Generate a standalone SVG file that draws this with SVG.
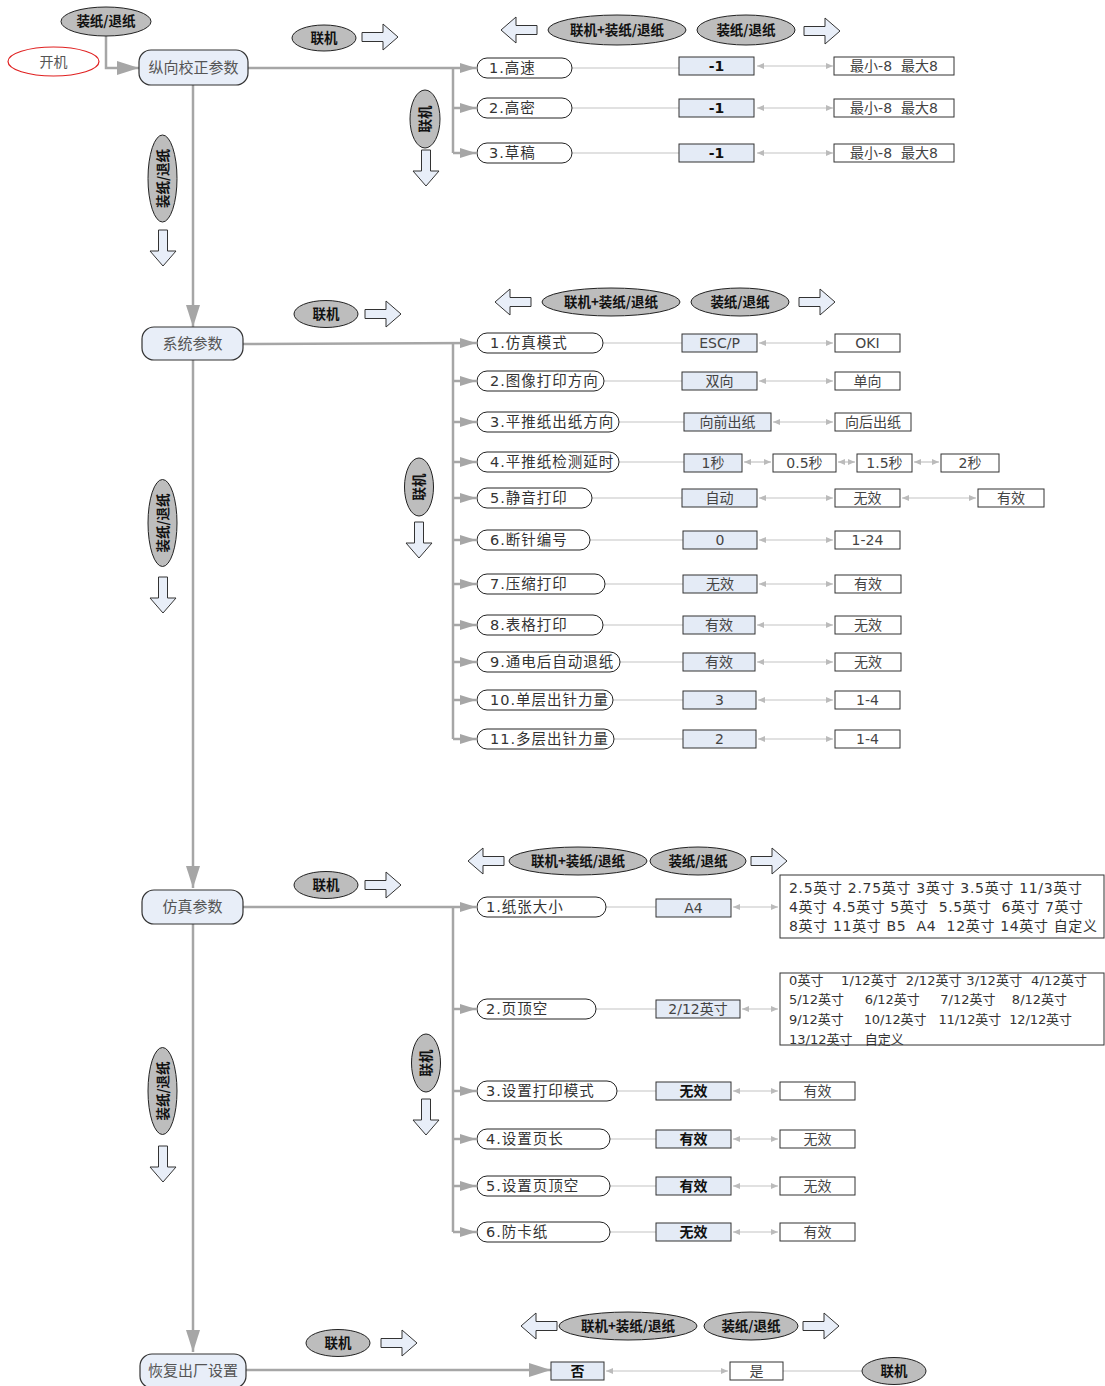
<svg xmlns="http://www.w3.org/2000/svg" xmlns:xlink="http://www.w3.org/1999/xlink" width="1105" height="1386" viewBox="0 0 1105 1386">
<style>
.conn{stroke:#a6a6a6;stroke-width:2.5;fill:none}
.lnk{stroke:#c4c4c4;stroke-width:1.2;fill:none}
.dbl{stroke:#c4c4c4;stroke-width:1.2;fill:none;marker-start:url(#mSm);marker-end:url(#mSm)}
.node{fill:#e8eef8;stroke:#333;stroke-width:1.2}
.pill{fill:#fff;stroke:#222;stroke-width:1}
.val{fill:#e4ebf6;stroke:#333;stroke-width:1}
.opt{fill:#fff;stroke:#333;stroke-width:1}
.btn{fill:#bdbdbd;stroke:#222;stroke-width:1}
.blk{fill:#e8eef8;stroke:#333;stroke-width:1}
text{font-family:"DejaVu Sans","Noto Sans CJK SC",sans-serif;white-space:pre}
.nt{font-size:15px;fill:#555;text-anchor:middle}
.pt{font-size:14.5px;fill:#333;letter-spacing:1px}
.vt{font-size:14px;fill:#444;text-anchor:middle}
.vb{font-size:14px;fill:#111;text-anchor:middle;font-weight:bold}
.bt{font-family:"Noto Sans CJK SC",sans-serif;font-size:13.5px;font-weight:bold;fill:#111;text-anchor:middle}
.lt{font-size:14px;fill:#333}
.ls{font-size:13px;fill:#333}
</style>
<defs>
<marker id="mBig" viewBox="0 0 22 14" refX="22" refY="7" markerWidth="22" markerHeight="14" markerUnits="userSpaceOnUse" orient="auto"><path d="M0,0 L22,7 L0,14 Z" fill="#a6a6a6"/></marker>
<marker id="mMid" viewBox="0 0 16 10" refX="16" refY="5" markerWidth="16" markerHeight="10" markerUnits="userSpaceOnUse" orient="auto"><path d="M0,0 L16,5 L0,10 Z" fill="#a6a6a6"/></marker>
<marker id="mSm" viewBox="0 0 7 6" refX="7" refY="3" markerWidth="7" markerHeight="6" markerUnits="userSpaceOnUse" orient="auto-start-reverse"><path d="M0,0 L7,3 L0,6 Z" fill="#bbb"/></marker>
<path id="ra" d="M0,-4.5 H21 V-13 L36,0 L21,13 V4.5 H0 Z"/>
</defs>
<rect width="1105" height="1386" fill="#fff"/>

<!-- connectors -->
<g id="connectors">
<path class="conn" d="M106,36 V68 H139" marker-end="url(#mBig)"/>
<path class="conn" d="M193,85 V327" marker-end="url(#mBig)"/>
<path class="conn" d="M193,360 V888" marker-end="url(#mBig)"/>
<path class="conn" d="M193,924 V1352" marker-end="url(#mBig)"/>
<!-- section 1 -->
<path class="conn" d="M248,68 H476" marker-end="url(#mMid)"/>
<path class="conn" d="M453,68 V153"/>
<path class="conn" d="M453,108 H476" marker-end="url(#mMid)"/>
<path class="conn" d="M453,153 H476" marker-end="url(#mMid)"/>
<path class="lnk" d="M572,68 H679 M572,108 H679 M572,153 H679"/>
<path class="dbl" d="M757,66 H833"/>
<path class="dbl" d="M757,108 H833"/>
<path class="dbl" d="M757,153 H833"/>
<!-- section 2 -->
<path class="conn" d="M243,344 L476,343" marker-end="url(#mMid)"/>
<path class="conn" d="M453,343 V739"/>
<path class="conn" d="M453,381 H476" marker-end="url(#mMid)"/>
<path class="conn" d="M453,422 H476" marker-end="url(#mMid)"/>
<path class="conn" d="M453,462 H476" marker-end="url(#mMid)"/>
<path class="conn" d="M453,498 H476" marker-end="url(#mMid)"/>
<path class="conn" d="M453,540 H476" marker-end="url(#mMid)"/>
<path class="conn" d="M453,584 H476" marker-end="url(#mMid)"/>
<path class="conn" d="M453,625 H476" marker-end="url(#mMid)"/>
<path class="conn" d="M453,662 H476" marker-end="url(#mMid)"/>
<path class="conn" d="M453,700 H476" marker-end="url(#mMid)"/>
<path class="conn" d="M453,739 H476" marker-end="url(#mMid)"/>
<path class="lnk" d="M603,343 H682 M604,381 H682 M619,422 H684 M619,462 H684 M592,498 H682 M590,540 H683 M605,584 H683 M603,625 H683 M620,662 H683 M613,700 H683 M614,739 H683"/>
<path class="dbl" d="M759,343 H833"/>
<path class="dbl" d="M759,381 H833"/>
<path class="dbl" d="M773,422 H833"/>
<path class="dbl" d="M744,462 H771"/>
<path class="dbl" d="M838,462 H855"/>
<path class="dbl" d="M914,462 H939"/>
<path class="dbl" d="M759,498 H833"/>
<path class="dbl" d="M902,498 H976"/>
<path class="dbl" d="M759,540 H833"/>
<path class="dbl" d="M759,584 H833"/>
<path class="dbl" d="M757,625 H833"/>
<path class="dbl" d="M757,662 H833"/>
<path class="dbl" d="M758,700 H833"/>
<path class="dbl" d="M758,739 H833"/>
<!-- section 3 -->
<path class="conn" d="M243,907 H476" marker-end="url(#mMid)"/>
<path class="conn" d="M453,907 V1232"/>
<path class="conn" d="M453,1009 H476" marker-end="url(#mMid)"/>
<path class="conn" d="M453,1091 H476" marker-end="url(#mMid)"/>
<path class="conn" d="M453,1139 H476" marker-end="url(#mMid)"/>
<path class="conn" d="M453,1186 H476" marker-end="url(#mMid)"/>
<path class="conn" d="M453,1232 H476" marker-end="url(#mMid)"/>
<path class="lnk" d="M606,907 H656 M596,1009 H656 M617,1091 H656 M610,1139 H656 M610,1186 H656 M610,1232 H656"/>
<path class="dbl" d="M733,907 H778"/>
<path class="dbl" d="M742,1009 H778"/>
<path class="dbl" d="M733,1091 H778"/>
<path class="dbl" d="M733,1139 H778"/>
<path class="dbl" d="M733,1186 H778"/>
<path class="dbl" d="M733,1232 H778"/>
<!-- section 4 -->
<path class="conn" d="M246,1370 H551" marker-end="url(#mBig)"/>
<path class="dbl" d="M606,1371 H728"/>
<path class="lnk" d="M783,1371 H862"/>
</g>

<!-- hint buttons and block arrows -->
<g id="hints">
<g id="h-start"><ellipse class="btn" cx="106" cy="21.5" rx="45" ry="14.5"/><text class="bt" x="106" y="26">装纸/退纸</text></g>
<g id="h1-online"><ellipse class="btn" cx="324" cy="38" rx="32" ry="13"/><text class="bt" x="324" y="43">联机</text><use href="#ra" class="blk" transform="translate(362,37)"/></g>
<g id="h1-top">
<use href="#ra" class="blk" transform="translate(537,30) scale(-1,1)"/>
<ellipse class="btn" cx="617" cy="30" rx="69" ry="15"/><text class="bt" x="617" y="35">联机+装纸/退纸</text>
<ellipse class="btn" cx="746" cy="30" rx="49" ry="15"/><text class="bt" x="746" y="35">装纸/退纸</text>
<use href="#ra" class="blk" transform="translate(804,31)"/>
</g>
<g id="h1-down"><ellipse class="btn" cx="425" cy="119" rx="15" ry="29"/><text class="bt" transform="translate(425,119) rotate(-90)" x="0" y="5">联机</text><use href="#ra" class="blk" transform="translate(426,150) rotate(90)"/></g>
<g id="h1-left"><ellipse class="btn" cx="162.5" cy="178.5" rx="14.5" ry="43.5"/><text class="bt" transform="translate(162.5,178.5) rotate(-90)" x="0" y="5">装纸/退纸</text><use href="#ra" class="blk" transform="translate(163,230) rotate(90)"/></g>

<g id="h2-online"><ellipse class="btn" cx="326" cy="314" rx="32" ry="13.5"/><text class="bt" x="326" y="319">联机</text><use href="#ra" class="blk" transform="translate(365,314)"/></g>
<g id="h2-top">
<use href="#ra" class="blk" transform="translate(531,302) scale(-1,1)"/>
<ellipse class="btn" cx="611" cy="302" rx="69" ry="14"/><text class="bt" x="611" y="307">联机+装纸/退纸</text>
<ellipse class="btn" cx="740" cy="302" rx="49" ry="14"/><text class="bt" x="740" y="307">装纸/退纸</text>
<use href="#ra" class="blk" transform="translate(799,302)"/>
</g>
<g id="h2-down"><ellipse class="btn" cx="419" cy="487" rx="14.5" ry="29"/><text class="bt" transform="translate(419,487) rotate(-90)" x="0" y="5">联机</text><use href="#ra" class="blk" transform="translate(419,522) rotate(90)"/></g>
<g id="h2-left"><ellipse class="btn" cx="162.5" cy="523" rx="14.5" ry="43.5"/><text class="bt" transform="translate(162.5,523) rotate(-90)" x="0" y="5">装纸/退纸</text><use href="#ra" class="blk" transform="translate(163,577) rotate(90)"/></g>

<g id="h3-online"><ellipse class="btn" cx="326" cy="885" rx="32" ry="13.5"/><text class="bt" x="326" y="890">联机</text><use href="#ra" class="blk" transform="translate(365,885)"/></g>
<g id="h3-top">
<use href="#ra" class="blk" transform="translate(504,861) scale(-1,1)"/>
<ellipse class="btn" cx="578" cy="861" rx="69" ry="14"/><text class="bt" x="578" y="866">联机+装纸/退纸</text>
<ellipse class="btn" cx="698" cy="861" rx="48" ry="14"/><text class="bt" x="698" y="866">装纸/退纸</text>
<use href="#ra" class="blk" transform="translate(751,861)"/>
</g>
<g id="h3-down"><ellipse class="btn" cx="426" cy="1063" rx="14.5" ry="29"/><text class="bt" transform="translate(426,1063) rotate(-90)" x="0" y="5">联机</text><use href="#ra" class="blk" transform="translate(426,1099) rotate(90)"/></g>
<g id="h3-left"><ellipse class="btn" cx="162.5" cy="1091" rx="14.5" ry="43.5"/><text class="bt" transform="translate(162.5,1091) rotate(-90)" x="0" y="5">装纸/退纸</text><use href="#ra" class="blk" transform="translate(163,1146) rotate(90)"/></g>

<g id="h4-online"><ellipse class="btn" cx="338" cy="1343" rx="32" ry="13.5"/><text class="bt" x="338" y="1348">联机</text><use href="#ra" class="blk" transform="translate(381,1343)"/></g>
<g id="h4-top">
<use href="#ra" class="blk" transform="translate(557,1326) scale(-1,1)"/>
<ellipse class="btn" cx="628" cy="1326" rx="69" ry="14"/><text class="bt" x="628" y="1331">联机+装纸/退纸</text>
<ellipse class="btn" cx="751" cy="1326" rx="47" ry="14"/><text class="bt" x="751" y="1331">装纸/退纸</text>
<use href="#ra" class="blk" transform="translate(803,1326)"/>
</g>
</g>

<!-- main nodes -->
<g id="n-power"><ellipse cx="53.5" cy="61.5" rx="45.5" ry="14.5" fill="#fff" stroke="#e02020" stroke-width="1.2"/><text class="nt" x="53.5" y="67" style="font-size:14px">开机</text></g>
<g id="n-vertical"><rect class="node" x="139" y="50" width="109" height="35" rx="12"/><text class="nt" x="193.5" y="73">纵向校正参数</text></g>
<g id="n-system"><rect class="node" x="142" y="327" width="101" height="33" rx="12"/><text class="nt" x="192.5" y="349">系统参数</text></g>
<g id="n-emul"><rect class="node" x="142" y="890" width="101" height="34" rx="12"/><text class="nt" x="192.5" y="912">仿真参数</text></g>
<g id="n-reset"><rect class="node" x="140" y="1354" width="106" height="34" rx="12"/><text class="nt" x="193" y="1376">恢复出厂设置</text></g>

<!-- section 1 items -->
<g id="s1-r1"><rect class="pill" x="477" y="58" width="95" height="20" rx="10"/><text class="pt" x="489" y="73">1.高速</text>
<rect class="val" x="679" y="57" width="75" height="18"/><text class="vb" x="716.5" y="71">-1</text>
<rect class="opt" x="834" y="57" width="120" height="18"/><text class="vt" x="894" y="71">最小-8  最大8</text></g>
<g id="s1-r2"><rect class="pill" x="477" y="98" width="95" height="20" rx="10"/><text class="pt" x="489" y="113">2.高密</text>
<rect class="val" x="679" y="99" width="75" height="18"/><text class="vb" x="716.5" y="113">-1</text>
<rect class="opt" x="834" y="99" width="120" height="18"/><text class="vt" x="894" y="113">最小-8  最大8</text></g>
<g id="s1-r3"><rect class="pill" x="477" y="143" width="95" height="20" rx="10"/><text class="pt" x="489" y="158">3.草稿</text>
<rect class="val" x="679" y="144" width="75" height="18"/><text class="vb" x="716.5" y="158">-1</text>
<rect class="opt" x="834" y="144" width="120" height="18"/><text class="vt" x="894" y="158">最小-8  最大8</text></g>

<!-- section 2 items -->
<g id="s2-r1"><rect class="pill" x="477" y="333" width="126" height="20" rx="10"/><text class="pt" x="490" y="348">1.仿真模式</text>
<rect class="val" x="682" y="334" width="75" height="18"/><text class="vt" x="719.5" y="348">ESC/P</text>
<rect class="opt" x="835" y="334" width="65" height="18"/><text class="vt" x="867.5" y="348">OKI</text></g>
<g id="s2-r2"><rect class="pill" x="477" y="371" width="127" height="20" rx="10"/><text class="pt" x="490" y="386">2.图像打印方向</text>
<rect class="val" x="682" y="372" width="75" height="18"/><text class="vt" x="719.5" y="386">双向</text>
<rect class="opt" x="835" y="372" width="65" height="18"/><text class="vt" x="867.5" y="386">单向</text></g>
<g id="s2-r3"><rect class="pill" x="477" y="412" width="142" height="20" rx="10"/><text class="pt" x="490" y="427">3.平推纸出纸方向</text>
<rect class="val" x="684" y="413" width="87" height="18"/><text class="vt" x="727.5" y="427">向前出纸</text>
<rect class="opt" x="835" y="413" width="76" height="18"/><text class="vt" x="873" y="427">向后出纸</text></g>
<g id="s2-r4"><rect class="pill" x="477" y="452" width="142" height="20" rx="10"/><text class="pt" x="490" y="467">4.平推纸检测延时</text>
<rect class="val" x="684" y="454" width="58" height="18"/><text class="vt" x="713" y="468">1秒</text>
<rect class="opt" x="773" y="454" width="63" height="18"/><text class="vt" x="804.5" y="468">0.5秒</text>
<rect class="opt" x="857" y="454" width="55" height="18"/><text class="vt" x="884.5" y="468">1.5秒</text>
<rect class="opt" x="941" y="454" width="58" height="18"/><text class="vt" x="970" y="468">2秒</text></g>
<g id="s2-r5"><rect class="pill" x="477" y="488" width="115" height="20" rx="10"/><text class="pt" x="490" y="503">5.静音打印</text>
<rect class="val" x="682" y="489" width="75" height="18"/><text class="vt" x="719.5" y="503">自动</text>
<rect class="opt" x="835" y="489" width="65" height="18"/><text class="vt" x="867.5" y="503">无效</text>
<rect class="opt" x="978" y="489" width="66" height="18"/><text class="vt" x="1011" y="503">有效</text></g>
<g id="s2-r6"><rect class="pill" x="477" y="530" width="113" height="20" rx="10"/><text class="pt" x="490" y="545">6.断针编号</text>
<rect class="val" x="683" y="531" width="74" height="18"/><text class="vt" x="720" y="545">0</text>
<rect class="opt" x="835" y="531" width="65" height="18"/><text class="vt" x="867.5" y="545">1-24</text></g>
<g id="s2-r7"><rect class="pill" x="477" y="574" width="128" height="20" rx="10"/><text class="pt" x="490" y="589">7.压缩打印</text>
<rect class="val" x="683" y="575" width="74" height="18"/><text class="vt" x="720" y="589">无效</text>
<rect class="opt" x="835" y="575" width="66" height="18"/><text class="vt" x="868" y="589">有效</text></g>
<g id="s2-r8"><rect class="pill" x="477" y="615" width="126" height="20" rx="10"/><text class="pt" x="490" y="630">8.表格打印</text>
<rect class="val" x="683" y="616" width="72" height="18"/><text class="vt" x="719" y="630">有效</text>
<rect class="opt" x="835" y="616" width="66" height="18"/><text class="vt" x="868" y="630">无效</text></g>
<g id="s2-r9"><rect class="pill" x="477" y="652" width="143" height="20" rx="10"/><text class="pt" x="490" y="667">9.通电后自动退纸</text>
<rect class="val" x="683" y="653" width="72" height="18"/><text class="vt" x="719" y="667">有效</text>
<rect class="opt" x="835" y="653" width="66" height="18"/><text class="vt" x="868" y="667">无效</text></g>
<g id="s2-r10"><rect class="pill" x="477" y="690" width="136" height="20" rx="10"/><text class="pt" x="490" y="705">10.单层出针力量</text>
<rect class="val" x="683" y="691" width="73" height="18"/><text class="vt" x="719.5" y="705">3</text>
<rect class="opt" x="835" y="691" width="65" height="18"/><text class="vt" x="867.5" y="705">1-4</text></g>
<g id="s2-r11"><rect class="pill" x="477" y="729" width="137" height="20" rx="10"/><text class="pt" x="490" y="744">11.多层出针力量</text>
<rect class="val" x="683" y="730" width="73" height="18"/><text class="vt" x="719.5" y="744">2</text>
<rect class="opt" x="835" y="730" width="65" height="18"/><text class="vt" x="867.5" y="744">1-4</text></g>

<!-- section 3 items -->
<g id="s3-r1"><rect class="pill" x="477" y="897" width="129" height="20" rx="10"/><text class="pt" x="486" y="912">1.纸张大小</text>
<rect class="val" x="656" y="899" width="75" height="18"/><text class="vt" x="693.5" y="913">A4</text>
<rect class="opt" x="780" y="875" width="324" height="63"/>
<text class="lt" x="789" y="893" textLength="293" lengthAdjust="spacing">2.5英寸 2.75英寸 3英寸 3.5英寸 11/3英寸</text>
<text class="lt" x="789" y="912" textLength="294" lengthAdjust="spacing">4英寸 4.5英寸 5英寸  5.5英寸  6英寸 7英寸</text>
<text class="lt" x="789" y="931" textLength="308" lengthAdjust="spacing">8英寸 11英寸 B5  A4  12英寸 14英寸 自定义</text></g>
<g id="s3-r2"><rect class="pill" x="477" y="999" width="119" height="20" rx="10"/><text class="pt" x="486" y="1014">2.页顶空</text>
<rect class="val" x="656" y="1000" width="84" height="18"/><text class="vt" x="698" y="1014">2/12英寸</text>
<rect class="opt" x="780" y="973" width="324" height="72"/>
<text class="ls" x="789" y="985" textLength="298" lengthAdjust="spacing">0英寸    1/12英寸  2/12英寸 3/12英寸  4/12英寸</text>
<text class="ls" x="789" y="1004" textLength="278" lengthAdjust="spacing">5/12英寸     6/12英寸     7/12英寸    8/12英寸</text>
<text class="ls" x="789" y="1024" textLength="283" lengthAdjust="spacing">9/12英寸     10/12英寸   11/12英寸  12/12英寸</text>
<text class="ls" x="789" y="1044">13/12英寸   自定义</text></g>
<g id="s3-r3"><rect class="pill" x="477" y="1081" width="140" height="20" rx="10"/><text class="pt" x="486" y="1096">3.设置打印模式</text>
<rect class="val" x="656" y="1082" width="75" height="18"/><text class="vb" x="693.5" y="1096">无效</text>
<rect class="opt" x="780" y="1082" width="75" height="18"/><text class="vt" x="817.5" y="1096">有效</text></g>
<g id="s3-r4"><rect class="pill" x="477" y="1129" width="133" height="20" rx="10"/><text class="pt" x="486" y="1144">4.设置页长</text>
<rect class="val" x="656" y="1130" width="75" height="18"/><text class="vb" x="693.5" y="1144">有效</text>
<rect class="opt" x="780" y="1130" width="75" height="18"/><text class="vt" x="817.5" y="1144">无效</text></g>
<g id="s3-r5"><rect class="pill" x="477" y="1176" width="133" height="20" rx="10"/><text class="pt" x="486" y="1191">5.设置页顶空</text>
<rect class="val" x="656" y="1177" width="75" height="18"/><text class="vb" x="693.5" y="1191">有效</text>
<rect class="opt" x="780" y="1177" width="75" height="18"/><text class="vt" x="817.5" y="1191">无效</text></g>
<g id="s3-r6"><rect class="pill" x="477" y="1222" width="133" height="20" rx="10"/><text class="pt" x="486" y="1237">6.防卡纸</text>
<rect class="val" x="656" y="1223" width="75" height="18"/><text class="vb" x="693.5" y="1237">无效</text>
<rect class="opt" x="780" y="1223" width="75" height="18"/><text class="vt" x="817.5" y="1237">有效</text></g>

<!-- section 4 items -->
<g id="s4-no"><rect class="val" x="551" y="1362" width="53" height="18"/><text class="vb" x="577.5" y="1376">否</text></g>
<g id="s4-yes"><rect class="opt" x="730" y="1362" width="53" height="18"/><text class="vt" x="756.5" y="1376">是</text></g>
<g id="s4-online"><ellipse class="btn" cx="894" cy="1371" rx="32" ry="13.5"/><text class="bt" x="894" y="1376">联机</text></g>
</svg>
